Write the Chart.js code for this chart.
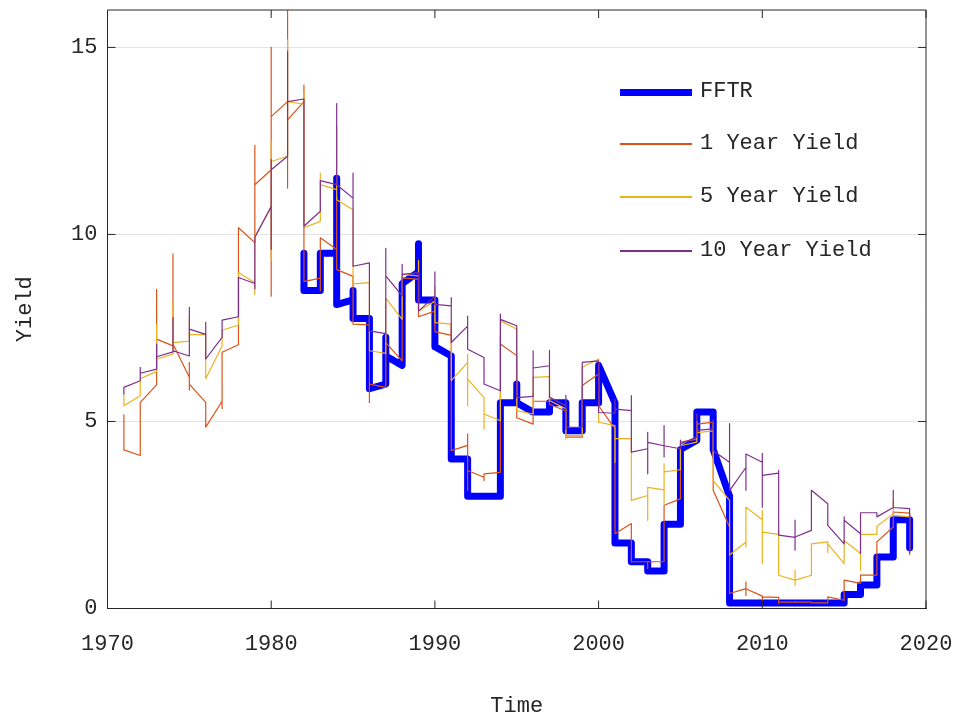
<!DOCTYPE html>
<html>
<head>
<meta charset="utf-8">
<title>Yield</title>
<script src="https://cdn.jsdelivr.net/npm/chart.js@4.4.0/dist/chart.umd.min.js"></script>
<style>
  body { margin: 0; background: #fff; }
  #wrap { position: relative; width: 958px; height: 719px; }
  #legend { position: absolute; left: 618px; top: 0; font-family: "Liberation Mono", monospace; font-size: 22px; color: #262626; }
  #legend .item { position: absolute; left: 0; width: 300px; height: 30px; }
  #legend .swatch { position: absolute; left: 2px; width: 72px; }
  #legend .text { position: absolute; left: 82px; top: 0; line-height: 30px; white-space: nowrap; }
</style>
</head>
<body>
<div id="wrap">
  <canvas id="chart"></canvas>
  <div id="legend"></div>
</div>
<script>
// x positions: one group of readings per year, drawn on the year's integer tick
const years = [1971, 1972, 1973, 1974, 1975, 1976, 1977, 1978, 1979, 1980,
               1981, 1982, 1983, 1984, 1985, 1986, 1987, 1988, 1989, 1990,
               1991, 1992, 1993, 1994, 1995, 1996, 1997, 1998, 1999, 2000,
               2001, 2002, 2003, 2004, 2005, 2006, 2007, 2008, 2009, 2010,
               2011, 2012, 2013, 2014, 2015, 2016, 2017, 2018, 2019];
const xTicks = [1970, 1980, 1990, 2000, 2010, 2020];
const yTicks = [0, 5, 10, 15];

// values inside each year, in order (first = entry, last = exit)
const fftr = [
  [], [], [], [], [], [], [], [], [], [], [],
  [9.5, 8.5], [8.5, 9.5], [9.5, 11.5, 8.125], [8.25, 8.5, 7.75], [7.75, 5.875],
  [6.0, 7.25, 6.75], [6.5, 8.6875], [9.0, 9.75, 8.25], [8.25, 7.0],
  [6.75, 4.0], [4.0, 3.0], [3.0], [3.0, 5.5], [5.5, 6.0, 5.5], [5.25],
  [5.25, 5.5], [5.5, 4.75], [4.75, 5.5], [5.5, 6.5],
  [5.5, 1.75], [1.75, 1.25], [1.25, 1.0], [1.0, 2.25], [2.25, 4.25],
  [4.5, 5.25], [5.25, 4.25], [3.0, 0.15], [0.15], [0.15],
  [0.15], [0.15], [0.15], [0.15], [0.15, 0.375], [0.375, 0.625],
  [0.625, 1.375], [1.375, 2.375], [2.375, 1.625]
];
const oneYear = [
  [5.18, 4.24], [4.09, 5.51], [5.98, 8.53, 7.2], [7.02, 9.48, 7.07], [6.18, 6.58, 5.84, 6.0],
  [5.51, 4.85], [5.54, 5.35, 6.85], [7.05, 10.18], [9.78, 12.38, 11.33], [11.73, 15.0, 8.35, 13.15],
  [13.55, 16.5, 11.24, 13.06], [13.55, 13.99, 8.74], [8.83, 8.5, 9.91], [9.6, 11.0, 9.06], [8.88, 7.6],
  [7.58, 5.51, 6.0], [5.91, 7.4, 7.11], [6.62, 8.84], [8.8, 9.3, 7.8], [7.95, 8.1, 7.4],
  [7.3, 7.6, 4.22], [4.36, 4.67, 3.16, 3.69], [3.51, 3.42, 3.6], [3.64, 7.3, 7.07], [6.76, 5.1],
  [4.93, 5.75, 5.54], [5.54, 5.7, 5.46], [5.28, 4.58], [4.58, 5.96], [6.27, 6.3, 5.42],
  [4.8, 2.0], [2.27, 1.25], [1.25, 1.07, 1.25], [1.25, 2.76], [2.93, 4.45],
  [4.53, 5.0, 4.93], [4.98, 3.16], [2.18, 0.4], [0.53, 0.71, 0.35, 0.53], [0.33, 0.22, 0.31],
  [0.3, 0.13, 0.17], [0.17, 0.19, 0.17], [0.17, 0.15], [0.15, 0.31], [0.22, 0.76],
  [0.67, 0.89], [0.89, 1.78], [2.18, 2.58], [2.55, 1.57]
];
const fiveYear = [
  [5.74, 5.42], [5.69, 6.14], [6.34, 7.6, 6.67], [6.8, 8.2, 7.11], [7.15, 7.8, 7.32],
  [7.32, 6.14], [7.02, 7.44], [7.58, 8.98], [8.71, 8.4, 9.95], [10.72, 9.3, 12.5, 11.95],
  [12.09, 15.2, 13.55], [13.48, 13.8, 10.18], [10.35, 11.64, 11.33], [11.2, 12.9, 10.93], [10.66, 8.68],
  [8.71, 6.89], [6.82, 8.3], [7.73, 8.93], [8.89, 9.3, 7.95], [8.22, 8.6, 7.64],
  [7.6, 6.09], [6.58, 6.8, 5.42, 6.13], [5.64, 4.8, 5.2], [5.02, 7.8, 7.69], [7.47, 5.29],
  [5.2, 6.18], [6.2, 5.56], [5.34, 4.53, 4.62], [4.62, 6.45], [6.67, 4.98],
  [4.89, 3.9, 4.54], [4.54, 2.89], [3.02, 2.35, 3.24], [3.17, 2.8, 3.87, 3.65], [3.71, 4.4, 4.35],
  [4.45, 5.0, 4.7], [4.75, 4.95, 3.42], [2.89, 1.43], [1.78, 1.65, 2.71], [2.37, 2.62, 1.2, 2.04],
  [1.98, 2.1, 0.89], [0.76, 1.03, 0.62, 0.76], [0.89, 1.73], [1.78, 1.5, 1.73], [1.2, 1.82],
  [1.47, 1.02, 1.98], [1.98, 2.2], [2.53, 2.9, 2.49], [2.45, 1.43]
];
const tenYear = [
  [5.74, 5.91], [6.09, 6.45, 6.29], [6.4, 7.07, 6.73], [6.86, 7.78, 6.89], [6.75, 8.05, 7.47],
  [7.33, 7.65, 6.67], [7.25, 7.71], [7.8, 8.85], [8.69, 8.55, 9.92], [10.75, 9.6, 12.0, 11.73],
  [12.09, 14.9, 13.55], [13.62, 10.22], [10.62, 11.44], [11.33, 13.5, 11.33], [10.97, 11.64, 9.15],
  [9.24, 7.42], [7.35, 9.63, 8.89], [8.36, 9.2, 8.93], [8.98, 7.95], [8.35, 9.0, 8.13],
  [8.09, 8.31, 7.11], [7.55, 7.82, 6.93], [6.71, 6.0], [5.82, 7.87, 7.73], [7.56, 5.64],
  [5.67, 6.89, 6.43], [6.49, 6.9, 5.65], [5.42, 5.7, 4.8, 4.84], [4.84, 6.58], [6.62, 5.24],
  [5.22, 5.6, 5.33], [5.29, 5.69, 4.18], [4.27, 4.71, 3.6, 4.44], [4.35, 4.89, 4.05, 4.35], [4.27, 4.5, 4.4],
  [4.58, 5.2, 4.76], [4.8, 5.04, 4.22], [3.91, 4.94, 3.15], [3.77, 3.16, 4.13], [3.91, 4.15, 2.71, 3.56],
  [3.62, 3.69, 1.96], [1.9, 2.36, 1.56, 1.91], [2.09, 3.16], [2.8, 2.22], [1.73, 2.45, 2.36],
  [2.0, 1.47, 2.56], [2.56, 2.45], [2.7, 3.16, 2.7], [2.67, 1.47]
];

const FONT = { family: '"Liberation Mono", monospace', size: 22 };
const INK = '#262626';

function toPoints(groups) {
  const pts = [];
  groups.forEach((vals, i) => vals.forEach(v => pts.push({ x: years[i], y: v })));
  return pts;
}

const series = [
  { label: 'FFTR',          data: fftr,     color: '#0000FF', width: 7,   y: 92 },
  { label: '1 Year Yield',  data: oneYear,  color: '#D95319', width: 1.2, y: 144 },
  { label: '5 Year Yield',  data: fiveYear, color: '#EDB120', width: 1.2, y: 197 },
  { label: '10 Year Yield', data: tenYear,  color: '#7E2F8E', width: 1.2, y: 251 }
];

// MATLAB-style box with inward ticks on all four sides
const axesBox = {
  id: 'axesBox',
  afterDraw(chart) {
    const { ctx, chartArea: a, scales: { x, y } } = chart;
    ctx.save();
    ctx.strokeStyle = INK;
    ctx.lineWidth = 1;
    ctx.beginPath();
    ctx.rect(a.left, a.top, a.right - a.left, a.bottom - a.top);
    xTicks.forEach(v => {
      const px = x.getPixelForValue(v);
      ctx.moveTo(px, a.bottom); ctx.lineTo(px, a.bottom - 8);
      ctx.moveTo(px, a.top);    ctx.lineTo(px, a.top + 8);
    });
    yTicks.forEach(v => {
      const py = y.getPixelForValue(v);
      ctx.moveTo(a.left, py);  ctx.lineTo(a.left + 8, py);
      ctx.moveTo(a.right, py); ctx.lineTo(a.right - 8, py);
    });
    ctx.stroke();
    ctx.restore();
  }
};

new Chart(document.getElementById('chart'), {
  type: 'scatter',
  data: {
    datasets: series.map((s, i) => ({
      label:       s.label,
      data:        toPoints(s.data),
      showLine:    true,
      borderColor: s.color,
      backgroundColor: s.color,
      borderWidth: s.width,
      pointRadius: 0,
      pointHoverRadius: 0,
      order:       series.length - i
    }))
  },
  options: {
    responsive: true,
    maintainAspectRatio: false,
    animation: false,
    layout: { padding: { top: 10, right: 32, left: 0, bottom: 0 } },
    elements: { line: { tension: 0, borderJoinStyle: 'round', borderCapStyle: 'round' } },
    plugins: { legend: { display: false }, tooltip: { enabled: false } },
    scales: {
      x: {
        type: 'linear', min: 1970, max: 2020,
        afterBuildTicks: s => { s.ticks = xTicks.map(v => ({ value: v })); },
        afterFit: s => { s.height = 110.5; s.paddingLeft = 0; s.paddingRight = 0; },
        grid: { display: false, drawTicks: false },
        border: { display: true, color: INK },
        ticks: { padding: 22, color: INK, font: FONT, maxRotation: 0, autoSkip: false, callback: v => String(v) },
        title: { display: true, text: 'Time', color: INK, font: FONT, padding: { top: 0, bottom: 0 } }
      },
      y: {
        type: 'linear', min: 0, max: 16,
        afterBuildTicks: s => { s.ticks = yTicks.map(v => ({ value: v })); },
        afterFit: s => { s.width = 107.5; s.paddingTop = 0; s.paddingBottom = 0; },
        grid: { color: '#e3e3e3', drawTicks: false },
        border: { display: true, color: INK },
        ticks: { padding: 10, color: INK, font: FONT, callback: v => String(v) },
        title: { display: true, text: 'Yield', color: INK, font: FONT, padding: { top: 12, bottom: 0 } }
      }
    }
  },
  plugins: [axesBox]
});

// legend drawn inside the axes, without a box
const legend = document.getElementById('legend');
series.forEach(s => {
  const item = document.createElement('div');
  item.className = 'item';
  item.style.top = (s.y - 15) + 'px';
  const sw = document.createElement('div');
  sw.className = 'swatch';
  sw.style.height = s.width + 'px';
  sw.style.top = (15 - s.width / 2) + 'px';
  sw.style.background = s.color;
  const tx = document.createElement('span');
  tx.className = 'text';
  tx.textContent = s.label;
  item.appendChild(sw);
  item.appendChild(tx);
  legend.appendChild(item);
});
</script>
</body>
</html>
